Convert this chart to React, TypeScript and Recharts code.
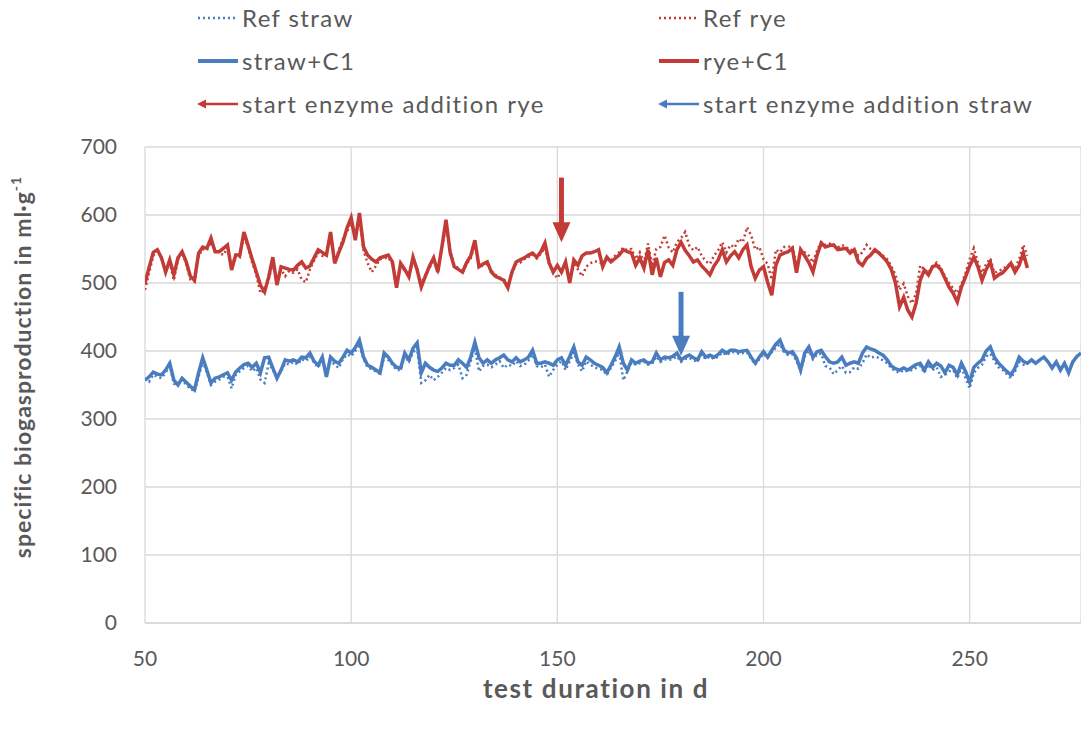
import {
  LineChart,
  Line,
  XAxis,
  YAxis,
  CartesianGrid,
  ReferenceLine,
  ReferenceDot,
} from "recharts";

// daily readings, day 50 onwards
const days = Array.from({ length: 228 }, (_, i) => 50 + i);

const ryeC1 = [
  500, 523, 545, 549, 537, 516, 534, 512, 537, 546,
  531, 510, 504, 544, 553, 551, 566, 546, 546, 551,
  556, 519, 541, 541, 575, 555, 535, 516, 497, 487,
  509, 538, 497, 524, 522, 520, 519, 526, 531, 522,
  525, 537, 549, 545, 541, 575, 529, 545, 560, 581,
  596, 563, 603, 553, 541, 535, 531, 537, 539, 541,
  531, 493, 529, 520, 509, 538, 519, 494, 510, 525,
  537, 516, 553, 593, 545, 524, 520, 516, 530, 540,
  563, 524, 528, 531, 516, 510, 507, 504, 493, 516,
  531, 534, 537, 541, 544, 538, 546, 559, 530, 516,
  526, 516, 531, 500, 534, 526, 540, 544, 544, 546,
  549, 524, 538, 531, 536, 541, 549, 546, 544, 526,
  537, 522, 549, 512, 537, 509, 530, 534, 526, 549,
  560, 548, 540, 531, 534, 525, 519, 512, 525, 534,
  549, 531, 540, 546, 537, 549, 556, 524, 507, 519,
  524, 501, 482, 526, 541, 544, 546, 551, 515, 549,
  540, 530, 516, 541, 559, 553, 555, 556, 549, 550,
  551, 544, 549, 531, 526, 536, 541, 549, 544, 538,
  531, 520, 500, 465, 479, 460, 450, 470, 504, 519,
  512, 524, 526, 520, 507, 494, 485, 472, 494, 509,
  525, 538, 524, 504, 520, 531, 507, 512, 515, 522,
  529, 516, 526, 544, 522,
];

const refRye = [
  490, 515, 540, 548, 535, 520, 530, 504, 535, 545,
  528, 505, 502, 540, 550, 548, 560, 548, 545, 541,
  552, 525, 541, 538, 570, 552, 530, 512, 485, 490,
  505, 530, 500, 520, 510, 518, 515, 520, 505, 501,
  520, 533, 545, 540, 545, 568, 532, 548, 565, 575,
  590, 568, 595, 548, 529, 516, 525, 535, 536, 538,
  528, 498, 525, 518, 512, 535, 522, 498, 512, 522,
  534, 518, 550, 585, 548, 526, 522, 515, 528, 536,
  558, 526, 525, 528, 518, 512, 508, 506, 496, 514,
  528, 530, 535, 538, 542, 536, 543, 552, 528, 515,
  507, 518, 528, 505, 530, 520, 510, 524, 529, 532,
  531, 528, 536, 533, 540, 545, 552, 548, 550, 535,
  545, 530, 558, 525, 550, 553, 570, 552, 545, 560,
  566, 575, 555, 548, 553, 540, 532, 528, 540, 548,
  560, 545, 556, 552, 565, 560, 582, 570, 549, 553,
  535, 528, 505, 549, 545, 553, 553, 555, 525, 548,
  545, 540, 530, 548, 560, 556, 558, 555, 552, 556,
  553, 548, 550, 540, 545, 556, 550, 548, 545, 540,
  535, 525, 512, 490, 499, 480, 470, 485, 526, 520,
  515, 525, 530, 522, 510, 500, 492, 485, 498, 515,
  535, 551, 530, 515, 528, 536, 515, 518, 520, 525,
  529, 522, 535, 556, 540,
];

const strawC1 = [
  357, 362, 369, 366, 365, 372, 382, 357, 350, 360,
  354, 348, 343, 368, 390, 372, 353, 360, 362, 365,
  368, 357, 369, 375, 380, 382, 376, 382, 368, 390,
  391, 375, 360, 372, 387, 385, 387, 384, 391, 390,
  397, 385, 379, 391, 362, 391, 385, 382, 391, 401,
  397, 405, 416, 391, 379, 376, 372, 368, 397, 391,
  382, 376, 375, 397, 387, 404, 412, 368, 382, 376,
  372, 370, 375, 382, 379, 379, 387, 382, 376, 391,
  413, 390, 382, 387, 382, 387, 390, 394, 387, 384,
  390, 384, 387, 391, 401, 382, 382, 384, 382, 379,
  387, 390, 379, 392, 406, 384, 379, 391, 387, 382,
  379, 376, 368, 379, 391, 406, 382, 372, 387, 382,
  385, 387, 382, 384, 397, 387, 391, 390, 392, 397,
  387, 391, 394, 390, 387, 399, 391, 394, 391, 395,
  401, 397, 401, 401, 399, 400, 401, 391, 382, 391,
  399, 391, 401, 410, 416, 401, 397, 399, 390, 372,
  397, 406, 391, 399, 401, 392, 384, 382, 384, 391,
  379, 382, 384, 382, 397, 406, 403, 401, 397, 394,
  387, 378, 374, 372, 375, 372, 376, 380, 382, 372,
  384, 376, 382, 378, 368, 379, 376, 365, 382, 370,
  354, 376, 382, 387, 400, 406, 391, 382, 376, 370,
  365, 375, 391, 385, 382, 387, 382, 387, 391, 384,
  375, 384, 372, 382, 368, 384, 392, 397,
];

const refStraw = [
  360, 355, 365, 362, 360, 368, 378, 352, 350, 358,
  350, 345, 340, 362, 385, 368, 350, 355, 358, 362,
  362, 345, 365, 370, 375, 378, 370, 375, 358, 353,
  382, 372, 362, 370, 382, 380, 384, 380, 388, 385,
  392, 383, 376, 387, 365, 385, 380, 375, 388, 395,
  392, 400, 410, 388, 376, 373, 370, 366, 392, 387,
  380, 372, 372, 392, 384, 398, 405, 353, 357, 365,
  357, 362, 368, 375, 372, 375, 380, 360, 365, 385,
  405, 370, 378, 380, 376, 380, 385, 375, 380, 378,
  385, 378, 380, 386, 395, 378, 376, 380, 362, 372,
  380, 385, 372, 385, 398, 380, 370, 385, 380, 376,
  374, 372, 365, 375, 385, 398, 357, 370, 383, 380,
  382, 384, 380, 381, 392, 384, 388, 387, 388, 392,
  384, 388, 390, 386, 385, 395, 388, 392, 388, 392,
  398, 394, 398, 398, 396, 397, 398, 389, 380, 388,
  396, 390, 398, 405, 410, 398, 394, 395, 386, 370,
  392, 400, 388, 395, 396, 378, 376, 366, 372, 378,
  368, 369, 376, 374, 382, 395, 390, 392, 390, 386,
  382, 375, 370, 368, 372, 370, 372, 375, 378, 368,
  380, 372, 376, 362, 365, 370, 372, 360, 376, 360,
  345, 368, 375, 380, 392, 396, 385, 376, 372, 366,
  360, 370, 384, 380, 378,
];

const xTicks = [50, 100, 150, 200, 250];
const yTicks = [0, 100, 200, 300, 400, 500, 600, 700];

// enzyme addition arrows: day, arrow tail value, arrow tip value
const enzymeRye = { day: 151, from: 655, to: 560 };
const enzymeStraw = { day: 180, from: 487, to: 393 };

const BLUE = "#4a7cc0";
const RED = "#c23b36";
const TEXT = "#595959";
const FONT = "Lato, 'Open Sans', sans-serif";

const data = days.map((day, i) => ({
  day,
  refStraw: refStraw[i] ?? null,
  refRye: refRye[i] ?? null,
  strawC1: strawC1[i] ?? null,
  ryeC1: ryeC1[i] ?? null,
}));

const legendItems = [
  { label: "Ref straw", color: BLUE, kind: "dot", col: 0, row: 0 },
  { label: "Ref rye", color: RED, kind: "dot", col: 1, row: 0 },
  { label: "straw+C1", color: BLUE, kind: "solid", col: 0, row: 1 },
  { label: "rye+C1", color: RED, kind: "solid", col: 1, row: 1 },
  { label: "start enzyme addition rye", color: RED, kind: "arrow", col: 0, row: 2 },
  { label: "start enzyme addition straw", color: BLUE, kind: "arrow", col: 1, row: 2 },
];

function LegendIcon({ kind, color }: { kind: string; color: string }) {
  return (
    <svg width={44} height={12} style={{ marginRight: 2 }}>
      {kind === "dot" && (
        <line x1={2} y1={6} x2={42} y2={6} stroke={color} strokeWidth={2.5} strokeDasharray="2 3" />
      )}
      {kind === "solid" && <line x1={2} y1={6} x2={42} y2={6} stroke={color} strokeWidth={4} />}
      {kind === "arrow" && (
        <g>
          <line x1={8} y1={6} x2={42} y2={6} stroke={color} strokeWidth={2.5} />
          <path d="M1,6 L10,1.5 L10,10.5 Z" fill={color} />
        </g>
      )}
    </svg>
  );
}

function ChartLegend() {
  return (
    <div style={{ position: "absolute", left: 0, top: 0, width: 1081, height: 125, fontFamily: FONT }}>
      {legendItems.map((it) => (
        <div
          key={it.label}
          style={{
            position: "absolute",
            left: it.col === 0 ? 196 : 657,
            top: 3 + it.row * 43,
            display: "flex",
            alignItems: "center",
            fontSize: 24,
            letterSpacing: 1.4,
            color: TEXT,
            whiteSpace: "nowrap",
          }}
        >
          <LegendIcon kind={it.kind} color={it.color} />
          <span>{it.label}</span>
        </div>
      ))}
    </div>
  );
}

const arrowHead = (color: string) => (props: any) => {
  const { cx, cy } = props;
  return <path d={`M${cx - 9},${cy - 20} L${cx + 9},${cy - 20} L${cx},${cy} Z`} fill={color} />;
};

function YLabel() {
  return (
    <text
      transform="translate(31,367) rotate(-90)"
      textAnchor="middle"
      fontFamily={FONT}
      fontWeight={700}
      fontSize={23}
      letterSpacing={1}
      fill={TEXT}
    >
      specific biogasproduction in ml·g
      <tspan fontSize={14} dy={-10}>-1</tspan>
    </text>
  );
}

function XLabel() {
  return (
    <text
      x={596}
      y={698}
      textAnchor="middle"
      fontFamily={FONT}
      fontWeight={700}
      fontSize={26}
      letterSpacing={1.6}
      fill={TEXT}
    >
      test duration in d
    </text>
  );
}

export default function App() {
  return (
    <div style={{ position: "absolute", left: 0, top: 0, width: 1081, height: 731, background: "#fff" }}>
      <LineChart width={1081} height={731} data={data} margin={{ top: 147, right: 0, bottom: 48, left: 0 }}>
        <CartesianGrid stroke="#d9d9d9" strokeWidth={1.3} />
        <XAxis
          dataKey="day"
          type="number"
          domain={[50, 277]}
          ticks={xTicks}
          allowDataOverflow
          axisLine={{ stroke: "#d9d9d9", strokeWidth: 1.3 }}
          tickLine={false}
          tick={{ fill: TEXT, fontSize: 21, fontFamily: FONT }}
          tickMargin={22}
          height={60}
          label={<XLabel />}
        />
        <YAxis
          domain={[0, 700]}
          ticks={yTicks}
          axisLine={false}
          tickLine={false}
          tick={{ fill: TEXT, fontSize: 21, fontFamily: FONT }}
          tickMargin={22}
          width={145}
          label={<YLabel />}
        />
        <Line type="linear" dataKey="refStraw" name="Ref straw" stroke={BLUE} strokeWidth={2.5} strokeDasharray="2 3" dot={false} isAnimationActive={false} />
        <Line type="linear" dataKey="refRye" name="Ref rye" stroke={RED} strokeWidth={2.5} strokeDasharray="2 3" dot={false} isAnimationActive={false} />
        <Line type="linear" dataKey="strawC1" name="straw+C1" stroke={BLUE} strokeWidth={3.5} dot={false} isAnimationActive={false} />
        <Line type="linear" dataKey="ryeC1" name="rye+C1" stroke={RED} strokeWidth={3.5} dot={false} isAnimationActive={false} />
        <ReferenceLine
          segment={[{ x: enzymeRye.day, y: enzymeRye.from }, { x: enzymeRye.day, y: enzymeRye.to + 25 }]}
          stroke={RED}
          strokeWidth={5}
          ifOverflow="visible"
        />
        <ReferenceDot x={enzymeRye.day} y={enzymeRye.to} shape={arrowHead(RED)} ifOverflow="visible" />
        <ReferenceLine
          segment={[{ x: enzymeStraw.day, y: enzymeStraw.from }, { x: enzymeStraw.day, y: enzymeStraw.to + 25 }]}
          stroke={BLUE}
          strokeWidth={5}
          ifOverflow="visible"
        />
        <ReferenceDot x={enzymeStraw.day} y={enzymeStraw.to} shape={arrowHead(BLUE)} ifOverflow="visible" />
      </LineChart>
      <ChartLegend />
    </div>
  );
}
